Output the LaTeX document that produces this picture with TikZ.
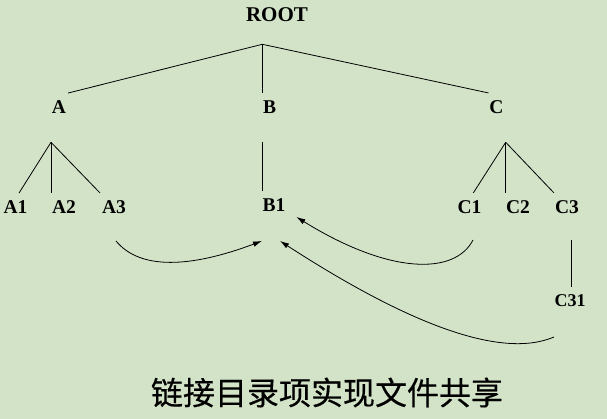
\documentclass[tikz,border=0pt]{standalone}
\usepackage{fontspec}
\setmainfont{Liberation Serif}
\newfontfamily\cjk[FakeBold=0.4]{Noto Sans CJK SC}
\usetikzlibrary{arrows.meta}
\definecolor{slidegreen}{RGB}{211,227,200}

\begin{document}
\begin{tikzpicture}[x=1pt,y=-1pt,
        lbl/.style={font=\fontsize{19.5}{22}\selectfont\bfseries, inner sep=0pt, outer sep=8pt},
        link/.style={-{Latex[length=9pt,width=5.5pt]}, line width=0.8pt}]
            \fill[slidegreen] (0,0) rectangle (607,419);  % Slide background
            \useasboundingbox (0,0) rectangle (607,419);

            % Labels
            \node[lbl, font=\fontsize{21}{24}\selectfont\bfseries] (root) at (277,14.7) {ROOT};
            \node[lbl] (A) at (59,107.5) {A};
            \node[lbl] (B) at (269.5,107.5) {B};
            \node[lbl] (C) at (496.5,107.5) {C};
            \node[lbl] (A1) at (15.5,207.5) {A1};
            \node[lbl] (A2) at (64,207.5) {A2};
            \node[lbl] (A3) at (114,207.5) {A3};
            \node[lbl] (B1) at (274,205.5) {B1};
            \node[lbl] (C1) at (469.5,207.5) {C1};
            \node[lbl] (C2) at (518,207.5) {C2};
            \node[lbl] (C3) at (567,207.5) {C3};
            \node[lbl, font=\fontsize{18}{21}\selectfont\bfseries] (C31) at (570,301) {C31};

            % Branch points
            \coordinate (rj) at (262.3,44.3);
            \coordinate (aj) at (51,142.3);
            \coordinate (bj) at (262.3,142.3);
            \coordinate (cj) at (505.7,142.3);
            \coordinate (c3j) at (571,240);

            \begin{scope}[line width=0.8pt]
                \draw (rj) -- ([xshift=9pt]A.north);
                \draw (rj) -- ([xshift=-7.2pt]B.north);
                \draw (rj) -- ([xshift=-8pt]C.north);
                \draw (aj) -- ([xshift=3.5pt]A1.north);
                \draw (aj) -- ([xshift=-13pt]A2.north);
                \draw (aj) -- ([xshift=-14pt]A3.north);
                \draw (bj) -- ([xshift=-11.7pt]B1.north);
                \draw (cj) -- ([xshift=3.8pt]C1.north);
                \draw (cj) -- ([xshift=-12.3pt]C2.north);
                \draw (cj) -- ([xshift=-13pt]C3.north);
                \draw (c3j) -- ([xshift=1pt]C31.north);
            \end{scope}

            % Shared links to B1
            \coordinate (a3t) at (116,241);
            \coordinate (c1t) at (473,240);
            \coordinate (c31t) at (554,337);

            \draw[link] (a3t) .. controls (140,270) and (190,268) .. ([xshift=-12pt,yshift=-21pt]B1.south);
            \draw[link] (c1t) .. controls (455,275) and (390,275) .. ([xshift=3pt,yshift=3pt]B1.south east);
            \draw[link] (c31t) .. controls (500,360) and (405,322) .. ([xshift=6pt,yshift=-21pt]B1.south);

            \node[font=\fontsize{32}{36}\selectfont\cjk, inner sep=0pt] (caption) at (327,392.5) {链接目录项实现文件共享};

        \end{tikzpicture}
\end{document}
